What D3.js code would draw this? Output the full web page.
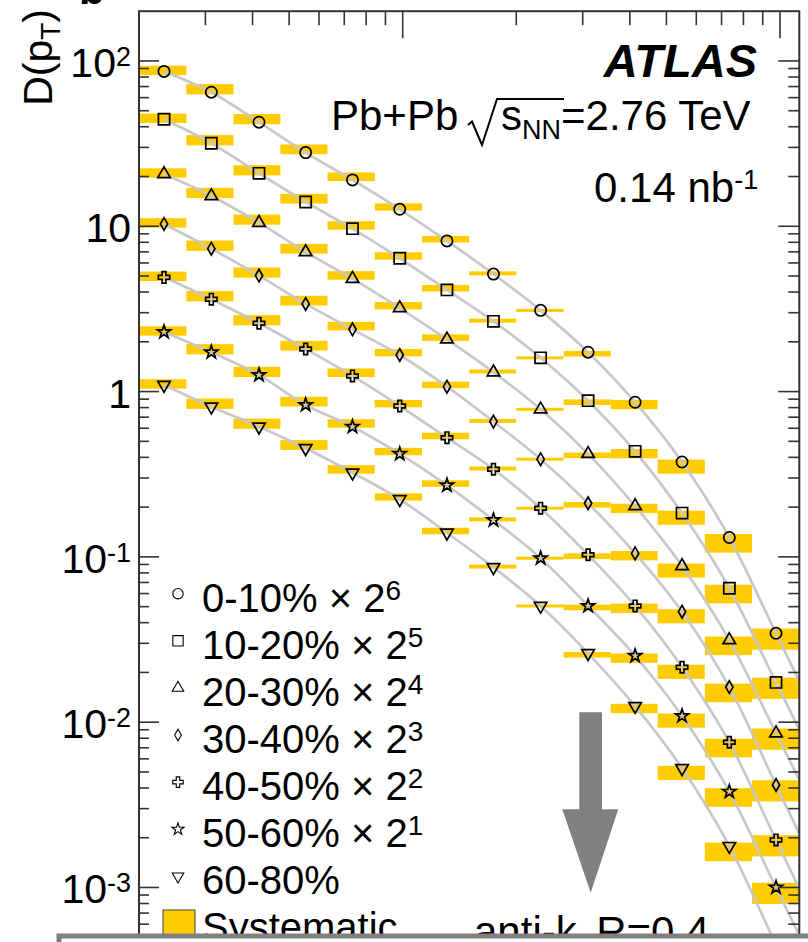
<!DOCTYPE html>
<html><head><meta charset="utf-8">
<script src="https://cdn.jsdelivr.net/npm/d3@7"></script>
<style>
body{margin:0;background:#fff;}
svg{display:block;}
text{font-family:"Liberation Sans",Arial,Helvetica,sans-serif;fill:#000;}
</style>
</head><body>
<svg id="chart" width="808" height="942"></svg>
<script>
// ---------------- data ----------------
const binEdges = [2.00, 2.67, 3.56, 4.74, 6.32, 8.43, 11.25, 15.0, 20.0, 26.7, 35.6, 47.4, 63.2, 84.3, 112.5];
const ptCenters = [2.33, 3.11, 4.16, 5.53, 7.36, 9.82, 13.1, 17.4, 23.2, 31.0, 41.3, 55.0, 73.4, 97.6];
const centralityLabels = ["0-10%", "10-20%", "20-30%", "30-40%", "40-50%", "50-60%", "60-80%"];
const scaleExponents = [6, 5, 4, 3, 2, 1, null];
const markerShapes = ["circle", "square", "triangle", "diamond", "cross", "star", "invtriangle"];
// displayed (already scaled) D(pT) values
const d0_10  = [86.4, 64.7, 42.6, 27.9, 19.06, 12.67, 8.15, 5.14, 3.10, 1.73, 0.862, 0.375, 0.131, 0.0345];
const d10_20 = [44.4, 31.8, 20.9, 14.03, 9.67, 6.40, 4.12, 2.66, 1.60, 0.881, 0.435, 0.184, 0.0646, 0.0174];
const d20_30 = [20.7, 15.25, 10.51, 6.99, 4.82, 3.20, 2.07, 1.31, 0.781, 0.420, 0.203, 0.0881, 0.0314, 0.00857];
const d30_40 = [10.33, 7.32, 5.03, 3.39, 2.38, 1.665, 1.071, 0.658, 0.390, 0.211, 0.105, 0.0466, 0.0163, 0.00417];
const d40_50 = [4.91, 3.62, 2.59, 1.81, 1.243, 0.818, 0.526, 0.339, 0.197, 0.103, 0.0505, 0.0215, 0.00756, 0.00194];
const d50_60 = [2.294, 1.729, 1.260, 0.830, 0.613, 0.420, 0.271, 0.167, 0.0982, 0.0505, 0.0252, 0.0109, 0.0038, 0.00100];
const d60_80 = [1.096, 0.810, 0.613, 0.454, 0.323, 0.223, 0.140, 0.0865, 0.0505, 0.0261, 0.0125, 0.00526, 0.00178, 0.00045];
// relative systematic uncertainty (upper / lower) per pT bin
const sysUp   = [0.083, 0.12, 0.12, 0.12, 0.11, 0.087, 0.072, 0.038, 0.021, 0.018, 0.033, 0.035, 0.05, 0.068];
const sysDown = [0.05, 0.03, 0.028, 0.022, 0.014, 0.019, 0.021, 0.018, 0.021, 0.058, 0.093, 0.15, 0.19, 0.205];
const yTickExponents = [2, 1, 0, -1, -2, -3];

const seriesValues = [d0_10, d10_20, d20_30, d30_40, d40_50, d50_60, d60_80];

// ---------------- layout ----------------
const svg = d3.select("#chart");
const L = 139, R = 799.3, T = 11.2, B = 1052.8;
const x = d3.scaleLog().domain([2, 112.5]).range([L, R]);
const y = d3.scaleLog().domain([1e-4, 200]).range([B, T]);

const BAND = "#ffcc00", LINEC = "#c8c8c8", FRAME = "#333";

svg.append("defs").append("clipPath").attr("id", "plotclip")
  .append("rect").attr("x", L).attr("y", T).attr("width", R - L).attr("height", 935 - T);

const plot = svg.append("g").attr("clip-path", "url(#plotclip)");

// systematic bands
seriesValues.forEach((vals) => {
  plot.append("g").selectAll("rect").data(vals).join("rect")
    .attr("x", (d, i) => x(binEdges[i]))
    .attr("width", (d, i) => x(binEdges[i + 1]) - x(binEdges[i]))
    .attr("y", (d, i) => y(d * (1 + sysUp[i])))
    .attr("height", (d, i) => y(d * (1 - sysDown[i])) - y(d * (1 + sysUp[i])))
    .attr("fill", BAND);
});

// gray curves through the points, continued to the right edge
const lineGen = d3.line().x(d => x(d[0])).y(d => y(d[1])).curve(d3.curveMonotoneX);
seriesValues.forEach((vals) => {
  const pts = vals.map((v, i) => [ptCenters[i], v]);
  const n = pts.length;
  const s = Math.log(pts[n - 1][1] / pts[n - 2][1]) / Math.log(pts[n - 1][0] / pts[n - 2][0]);
  const xe = 112.5;
  pts.push([xe, pts[n - 1][1] * Math.pow(xe / pts[n - 1][0], s)]);
  plot.append("path").attr("d", lineGen(pts))
    .attr("fill", "none").attr("stroke", LINEC).attr("stroke-width", 2.7);
});

// markers
function markerPath(shape, scale) {
  const k = scale || 1;
  switch (shape) {
    case "circle": return d3.symbol(d3.symbolCircle, 100 * k)();
    case "square": return d3.symbol(d3.symbolSquare, 125 * k)();
    case "triangle": return d3.symbol(d3.symbolTriangle, 68 * k)();
    case "diamond": return d3.symbol(d3.symbolDiamond, 46 * k)();
    case "cross": return d3.symbol(d3.symbolCross, 72 * k)();
    case "star": return d3.symbol(d3.symbolStar, 54 * k)();
    case "invtriangle": return d3.symbol(d3.symbolTriangle, 68 * k)();
  }
}
seriesValues.forEach((vals, si) => {
  const shape = markerShapes[si];
  plot.append("g").selectAll("path").data(vals).join("path")
    .attr("d", markerPath(shape))
    .attr("transform", (d, i) => `translate(${x(ptCenters[i])},${y(d)})` + (shape === "invtriangle" ? " rotate(180)" : ""))
    .attr("fill", "none").attr("stroke", "#000").attr("stroke-width", 1.7);
});

// ---------------- frame & ticks ----------------
svg.append("rect").attr("x", L).attr("y", T).attr("width", R - L).attr("height", 1100)
  .attr("fill", "none").attr("stroke", FRAME).attr("stroke-width", 2);

const axG = svg.append("g").attr("stroke", FRAME).attr("stroke-width", 1.6);
// y ticks (log): majors and minors, left and right, inward
for (let e = -4; e <= 2; e++) {
  for (let m = 1; m <= 9; m++) {
    const v = m * Math.pow(10, e);
    if (v < 1.05e-4 || v > 199) continue;
    const yy = y(v);
    if (yy > 942) continue;
    const major = m === 1;
    axG.append("line").attr("x1", L).attr("x2", L + (major ? 20 : 10)).attr("y1", yy).attr("y2", yy);
    axG.append("line").attr("x1", R).attr("x2", R - (major ? 21 : 11)).attr("y1", yy).attr("y2", yy);
  }
}
// x ticks on top, inward
x.ticks(20).forEach(v => {
  const xx = x(v);
  if (xx <= L + 1 || xx >= R - 1) return;
  const mant = v / Math.pow(10, Math.floor(Math.log10(v) + 1e-9));
  const major = Math.abs(mant - 1) < 1e-6;
  axG.append("line").attr("x1", xx).attr("x2", xx).attr("y1", T).attr("y2", T + (major ? 27 : 14));
});

// y tick labels
yTickExponents.forEach(e => {
  const t = svg.append("text").attr("x", 131).attr("y", y(Math.pow(10, e)) + 16)
    .attr("text-anchor", "end").attr("font-size", 41);
  if (e === 0) { t.text("1"); return; }
  if (e === 1) { t.text("10"); return; }
  t.append("tspan").text("10");
  t.append("tspan").attr("font-size", 27).attr("dy", -11).text(String(e));
});

// y axis title D(p_T)
const yt = svg.append("text").attr("transform", "translate(52,9) rotate(-90)")
  .attr("text-anchor", "end").attr("font-size", 41);
yt.append("tspan").text("D(p");
yt.append("tspan").attr("font-size", 28).attr("dy", 8).text("T");
yt.append("tspan").attr("dy", -8).text(")");

// cropped panel letter at the very top
svg.append("text").attr("x", 79).attr("y", 4).attr("font-size", 42).attr("font-weight", "bold").text("b");

// ---------------- annotations ----------------
svg.append("text").attr("x", 757).attr("y", 76.7).attr("text-anchor", "end")
  .attr("font-size", 47).attr("font-weight", "bold").attr("font-style", "italic").text("ATLAS");

svg.append("text").attr("x", 331).attr("y", 130).attr("font-size", 42).text("Pb+Pb");
svg.append("path").attr("d", "M468,125 L472,121.5 L482,145 L497,99 L564,99")
  .attr("fill", "none").attr("stroke", "#000").attr("stroke-width", 2);
const sText = svg.append("text").attr("x", 501).attr("y", 130).attr("font-size", 42);
sText.append("tspan").text("s");
sText.append("tspan").attr("font-size", 27).attr("dy", 9).text("NN");
sText.append("tspan").attr("dy", -9).text("=2.76 TeV");

const lumi = svg.append("text").attr("x", 594).attr("y", 201.7).attr("font-size", 42);
lumi.append("tspan").text("0.14 nb");
lumi.append("tspan").attr("font-size", 27).attr("dy", -13).text("-1");

// legend
const legBase0 = 611.7, legStep = 47.1;
centralityLabels.forEach((lab, i) => {
  const by = legBase0 + i * legStep;
  const shape = markerShapes[i];
  svg.append("path").attr("d", markerPath(shape, 0.85))
    .attr("transform", `translate(178,${by - 18})` + (shape === "invtriangle" ? " rotate(180)" : ""))
    .attr("fill", "none").attr("stroke", "#000").attr("stroke-width", 1.1);
  const t = svg.append("text").attr("x", 202).attr("y", by).attr("font-size", 40);
  if (scaleExponents[i] === null) { t.text(lab); return; }
  t.append("tspan").text(lab + " \u00d7 2");
  t.append("tspan").attr("font-size", 28).attr("dy", -12).text(String(scaleExponents[i]));
});
const sysY = legBase0 + 7 * legStep;
svg.append("rect").attr("x", 163).attr("y", 910).attr("width", 32).attr("height", 40)
  .attr("fill", BAND).attr("stroke", "#444").attr("stroke-width", 1);
svg.append("text").attr("x", 202).attr("y", sysY).attr("font-size", 40).text("Systematic");

// anti-kt label
const ak = svg.append("text").attr("x", 474).attr("y", 946).attr("font-size", 42);
ak.append("tspan").text("anti-k");
ak.append("tspan").attr("font-size", 28).attr("dy", 9).text("t");
ak.append("tspan").attr("dy", -9).text(" R=0.4");

// gray arrow
svg.append("path").attr("d", "M579.3,712.3 L602,712.3 L602,809.3 L618.3,809.3 L590.7,892.7 L562.3,809.3 L579.3,809.3 Z")
  .attr("fill", "#808080");

// overlapping box at the bottom
svg.append("rect").attr("x", 59).attr("y", 936).attr("width", 800).attr("height", 100)
  .attr("fill", "#fff").attr("stroke", "#808080").attr("stroke-width", 5);
</script>
</body></html>
